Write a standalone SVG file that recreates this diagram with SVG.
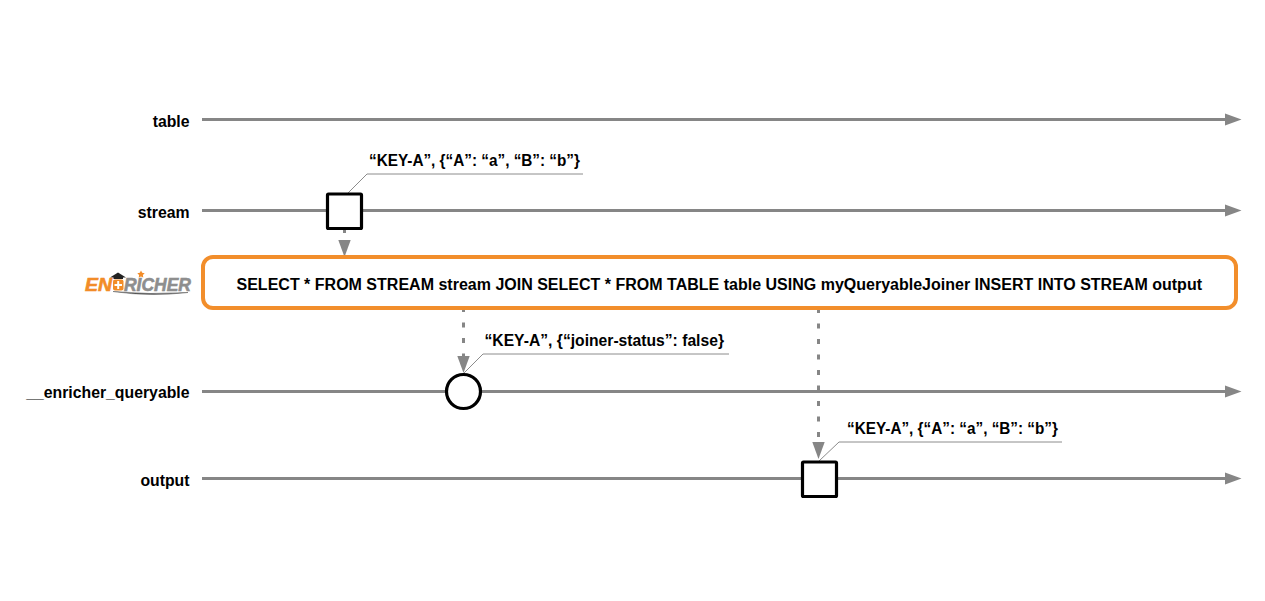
<svg xmlns="http://www.w3.org/2000/svg" width="1265" height="601" viewBox="0 0 1265 601">
<style>
text{font-family:"Liberation Sans",Arial,sans-serif;font-weight:700;font-size:15.600px;fill:#000}
.lbl{text-anchor:end;font-size:15.800px}
.tl{fill:none;stroke:#868686;stroke-width:3}
.dash{fill:none;stroke:#868686;stroke-width:3;stroke-dasharray:5 10.500}
.call{fill:none;stroke:#8c8c8c;stroke-width:1}
.ev{fill:#fff;stroke:#000;stroke-width:3.200}
.ah{fill:#868686}
.logo{font-size:18px;font-style:italic;stroke-width:.6px}
</style>
<rect width="1265" height="601" fill="#fff"/>
<g id="connectors">
<path class="tl" d="M202 119.500H1226"/><path class="ah" d="M1225 113.500L1241.500 119.500L1225 125.500Z"/>
<path class="tl" d="M202 210.500H1226"/><path class="ah" d="M1225 204.500L1241.500 210.500L1225 216.500Z"/>
<path class="tl" d="M202 391.500H1226"/><path class="ah" d="M1225 385.500L1241.500 391.500L1225 397.500Z"/>
<path class="tl" d="M202 478.500H1226"/><path class="ah" d="M1225 472.500L1241.500 478.500L1225 484.500Z"/>
<path class="tl" d="M344.500 229V233"/><path class="ah" d="M338.300 240H350.700L344.500 257Z"/>
<path class="dash" d="M463.500 307V358"/><path class="ah" d="M457.300 356H469.700L463.500 373Z"/>
<path class="dash" d="M818.500 308V441"/><path class="ah" d="M812.300 442H824.700L818.500 459Z"/>
<path class="call" d="M347 194L367 174H583"/>
<path class="call" d="M464 373L483 354H729"/>
<path class="call" d="M819 461L839 442H1062"/>
</g>
<g id="node-table"><text class="lbl" x="189.500" y="126.500">table</text></g>
<g id="node-stream"><text class="lbl" x="189.500" y="217.500">stream</text></g>
<g id="node-queryable"><text class="lbl" x="189.500" y="398">__enricher_queryable</text></g>
<g id="node-output"><text class="lbl" x="189.500" y="486">output</text></g>
<g id="node-enricher-logo">
<path d="M110 277.500L118 272.500L126 277.500Z" fill="#222"/>
<rect x="113.500" y="277" width="9.500" height="2" fill="#222"/>
<rect x="113" y="279.500" width="10.500" height="11" rx="2" fill="#f28c28"/>
<path d="M118.200 281V289M114.500 285H122" stroke="#fff" stroke-width="2"/>
<path d="M141 270.500l1.200 2.300 2.500.4-1.800 1.800.4 2.500-2.300-1.100-2.300 1.100.4-2.500-1.800-1.800 2.500-.4Z" fill="#f28c28"/>
<text class="logo" x="85" y="291" textLength="27" lengthAdjust="spacingAndGlyphs" style="fill:#f28c28;stroke:#f28c28">EN</text>
<text class="logo" x="124" y="291" textLength="67" lengthAdjust="spacingAndGlyphs" style="fill:#8e8e8e;stroke:#8e8e8e">RICHER</text>
<path d="M113 291.500Q150 295 188 292.500Q150 297 113 291.500Z" fill="#555" stroke="#555" stroke-width=".5"/>
</g>
<g id="node-query">
<rect x="203" y="257" width="1033" height="51" rx="10" fill="#fff" stroke="#f28e2b" stroke-width="4"/>
<text x="236.500" y="289.500" textLength="965.500" lengthAdjust="spacingAndGlyphs">SELECT * FROM STREAM stream JOIN SELECT * FROM TABLE table USING myQueryableJoiner INSERT INTO STREAM output</text>
</g>
<g id="event-stream">
<rect class="ev" x="327.500" y="194" width="34" height="34.500" rx="1"/>
<text x="369" y="166" textLength="211" lengthAdjust="spacingAndGlyphs">“KEY-A”, {“A”: “a”, “B”: “b”}</text>
</g>
<g id="event-queryable">
<circle class="ev" cx="463.500" cy="391.500" r="17"/>
<text x="484.500" y="346" textLength="239.500" lengthAdjust="spacingAndGlyphs">“KEY-A”, {“joiner-status”: false}</text>
</g>
<g id="event-output">
<rect class="ev" x="802.500" y="462" width="34" height="34.500" rx="1"/>
<text x="847" y="433.500" textLength="211" lengthAdjust="spacingAndGlyphs">“KEY-A”, {“A”: “a”, “B”: “b”}</text>
</g>
</svg>
